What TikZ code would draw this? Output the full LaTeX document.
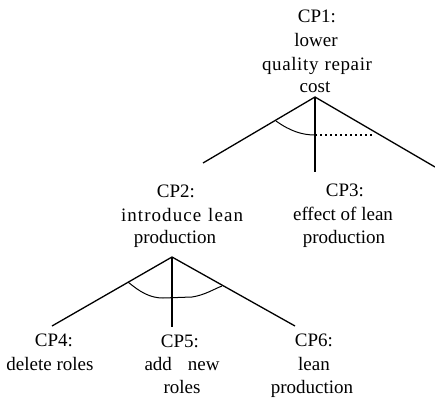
\documentclass[tikz,border=0pt]{standalone}
\usepackage{fontspec}
\setmainfont{Liberation Serif}
\begin{document}
\begin{tikzpicture}[x=1pt,y=-1pt,
  lbl/.style={anchor=base,inner sep=0pt,font=\fontsize{19}{23}\selectfont},
  tree/.style={line width=1.3pt},
  arcline/.style={line width=1pt},
  dots/.style={line width=1.3pt,dash pattern=on 2pt off 3pt}]
\useasboundingbox (0,0) rectangle (435,399);
% CP1 labels
\node[lbl] (cp1a) at (317,22) {CP1:};
\node[lbl] (cp1b) at (316,46) {lower};
\node[lbl] (cp1c) at (317,70) {\makebox[110pt][s]{q\hfil u\hfil a\hfil l\hfil i\hfil t\hfil y\hfil\ \hfil r\hfil e\hfil p\hfil a\hfil i\hfil r}};
\node[lbl] (cp1d) at (315,92) {cost};
% CP3
\node[lbl] (cp3a) at (345,196) {CP3:};
\node[lbl] (cp3b) at (343,220) {effect of lean};
\node[lbl] (cp3c) at (344,243) {production};
% CP2
\node[lbl] (cp2a) at (176,197) {CP2:};
\node[lbl] (cp2b) at (182,221) {\makebox[122pt][s]{i\hfil n\hfil t\hfil r\hfil o\hfil d\hfil u\hfil c\hfil e\hfil\ \hfil l\hfil e\hfil a\hfil n}};
\node[lbl] (cp2c) at (175,243) {production};
% CP4
\node[lbl] (cp4a) at (54,346) {CP4:};
\node[lbl] (cp4b) at (50,370) {delete roles};
% CP5
\node[lbl] (cp5a) at (180,347) {CP5:};
\node[lbl] (cp5b) at (182,370) {\makebox[75pt][s]{add new}};
\node[lbl] (cp5c) at (182,393) {roles};
% CP6
\node[lbl] (cp6a) at (314,346) {CP6:};
\node[lbl] (cp6b) at (314,370) {lean};
\node[lbl] (cp6c) at (312,393) {production};
% top tree
\coordinate (t0) at (315,97);
\coordinate (tl) at (203,163);
\coordinate (tr) at (435,167);
\coordinate (tm) at (315,172);
\coordinate (ta) at (276,121);
\coordinate (tb) at (315,135);
\coordinate (tc) at (372,135);
\draw[tree] (tl) -- (t0) -- (tr);
\draw[tree] (t0) -- (tm);
\draw[arcline] (ta) .. controls (290,131) and (302,135) .. (tb);
\draw[dots] (tb) -- (tc);
% bottom tree
\coordinate (b0) at (172,257);
\coordinate (bl) at (52,326);
\coordinate (br) at (295,326);
\coordinate (bm) at (172,327);
\coordinate (ba) at (128,282);
\coordinate (bb) at (163,298);
\coordinate (bc) at (192,297);
\coordinate (bd) at (222,286);
\draw[tree] (bl) -- (b0) -- (br);
\draw[tree] (b0) -- (bm);
\draw[arcline] (ba) .. controls (140,292) and (150,298) .. (bb) -- (bc) .. controls (205,295) and (214,289) .. (bd);
\end{tikzpicture}
\end{document}
